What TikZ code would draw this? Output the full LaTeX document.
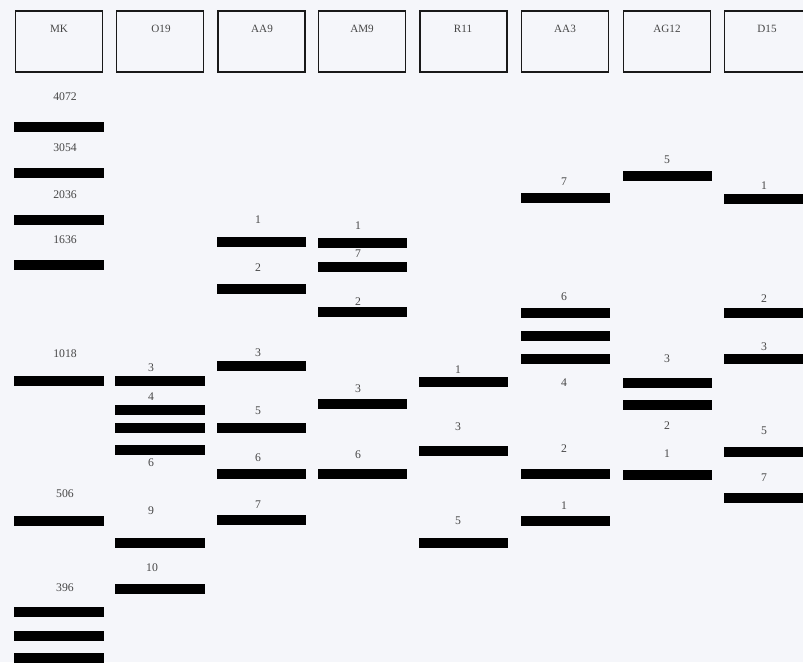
\documentclass[tikz,border=0pt]{standalone}
\usepackage{fontspec}
\setmainfont{Liberation Serif}
\usepackage{xcolor}
\usetikzlibrary{positioning}
\definecolor{gel}{RGB}{245,246,250}
\definecolor{ink}{RGB}{70,70,70}

\begin{document}
\begin{tikzpicture}[x=0.03cm,y=-0.03cm,
  lane/.style={draw=black!90,line width=1.4pt,minimum width=2.62cm,minimum height=1.84cm,inner sep=0pt},
  hd/.style={text=ink,font=\fontsize{9.5}{11}\selectfont,inner sep=0pt},
  band/.style={fill=black,minimum width=2.67cm,minimum height=0.3cm,inner sep=0pt},
  lbl/.style={text=ink,font=\fontsize{10}{12}\selectfont,inner sep=0pt}]
\useasboundingbox (0,0) rectangle (803,662);
\clip (0,0) rectangle (803,662);
\fill [gel] (0,0) rectangle (803,662);

\node [lane] (mk) at (59,41.5) {};
\node [lane] (o19) at (160,41.5) {};
\node [lane] (aa9) at (261.5,41.5) {};
\node [lane] (am9) at (362,41.5) {};
\node [lane] (r11) at (463.5,41.5) {};
\node [lane] (aa3) at (565,41.5) {};
\node [lane] (ag12) at (667,41.5) {};
\node [lane] (d15) at (768,41.5) {};
\node [hd] (mkh) at (59,29) {MK};
\node [hd] (o19h) at (161,29) {O19};
\node [hd] (aa9h) at (262,29) {AA9};
\node [hd] (am9h) at (362,29) {AM9};
\node [hd] (r11h) at (463,29) {R11};
\node [hd] (aa3h) at (565,29) {AA3};
\node [hd] (ag12h) at (667,29) {AG12};
\node [hd] (d15h) at (767,29) {D15};

\node [lbl] (mk1t) at (65,97) {4072};  \node [band] (mk1) at (59,127) {};
\node [lbl] (mk2t) at (65,148) {3054}; \node [band] (mk2) at (59,173) {};
\node [lbl] (mk3t) at (65,195) {2036}; \node [band] (mk3) at (59,220) {};
\node [lbl] (mk4t) at (65,240) {1636}; \node [band] (mk4) at (59,265) {};
\node [lbl] (mk5t) at (65,354) {1018}; \node [band] (mk5) at (59,381) {};
\node [lbl] (mk6t) at (65,494) {506};  \node [band] (mk6) at (59,521) {};
\node [lbl] (mk7t) at (65,588) {396};  \node [band] (mk7) at (59,612) {};
\node [band] (mk8) at (59,636) {};
\node [band] (mk9) at (59,658) {};

\node [lbl] (o19at) at (151,368) {3};  \node [band] (o19a) at (160,381) {};
\node [lbl] (o19bt) at (151,397) {4};  \node [band] (o19b) at (160,410) {};
\node [band] (o19c) at (160,428) {};
\node [band] (o19d) at (160,450) {};
\node [lbl] (o19dt) at (151,463) {6};
\node [lbl] (o19et) at (151,511) {9};  \node [band] (o19e) at (160,543) {};
\node [lbl] (o19ft) at (152,568) {10}; \node [band] (o19f) at (160,589) {};

\node [lbl] (aa9at) at (258,220) {1};  \node [band] (aa9a) at (261.5,242) {};
\node [lbl] (aa9bt) at (258,268) {2};  \node [band] (aa9b) at (261.5,289) {};
\node [lbl] (aa9ct) at (258,353) {3};  \node [band] (aa9c) at (261.5,366) {};
\node [lbl] (aa9dt) at (258,411) {5};  \node [band] (aa9d) at (261.5,428) {};
\node [lbl] (aa9et) at (258,458) {6};  \node [band] (aa9e) at (261.5,474) {};
\node [lbl] (aa9ft) at (258,505) {7};  \node [band] (aa9f) at (261.5,520) {};

\node [lbl] (am9at) at (358,226) {1};  \node [band] (am9a) at (362,243) {};
\node [band] (am9b) at (362,267) {};   \node [lbl] (am9bt) at (358,254) {7};
\node [band] (am9c) at (362,312) {};   \node [lbl] (am9ct) at (358,302) {2};
\node [lbl] (am9dt) at (358,389) {3};  \node [band] (am9d) at (362,404) {};
\node [lbl] (am9et) at (358,455) {6};  \node [band] (am9e) at (362,474) {};

\node [lbl] (r11at) at (458,370) {1};  \node [band] (r11a) at (463.5,382) {};
\node [lbl] (r11bt) at (458,427) {3};  \node [band] (r11b) at (463.5,451) {};
\node [lbl] (r11ct) at (458,521) {5};  \node [band] (r11c) at (463.5,543) {};

\node [lbl] (aa3at) at (564,182) {7};  \node [band] (aa3a) at (565,198) {};
\node [lbl] (aa3bt) at (564,297) {6};  \node [band] (aa3b) at (565,313) {};
\node [band] (aa3c) at (565,336) {};
\node [band] (aa3d) at (565,359) {};
\node [lbl] (aa3dt) at (564,383) {4};
\node [lbl] (aa3et) at (564,449) {2};  \node [band] (aa3e) at (565,474) {};
\node [lbl] (aa3ft) at (564,506) {1};  \node [band] (aa3f) at (565,521) {};

\node [lbl] (ag12at) at (667,160) {5}; \node [band] (ag12a) at (667,176) {};
\node [lbl] (ag12bt) at (667,359) {3}; \node [band] (ag12b) at (667,383) {};
\node [band] (ag12c) at (667,405) {};
\node [lbl] (ag12ct) at (667,426) {2};
\node [lbl] (ag12dt) at (667,454) {1}; \node [band] (ag12d) at (667,475) {};

\node [lbl] (d15at) at (764,186) {1};  \node [band] (d15a) at (768,199) {};
\node [lbl] (d15bt) at (764,299) {2};  \node [band] (d15b) at (768,313) {};
\node [lbl] (d15ct) at (764,347) {3};  \node [band] (d15c) at (768,359) {};
\node [lbl] (d15dt) at (764,431) {5};  \node [band] (d15d) at (768,452) {};
\node [lbl] (d15et) at (764,478) {7};  \node [band] (d15e) at (768,498) {};
\end{tikzpicture}
\end{document}
